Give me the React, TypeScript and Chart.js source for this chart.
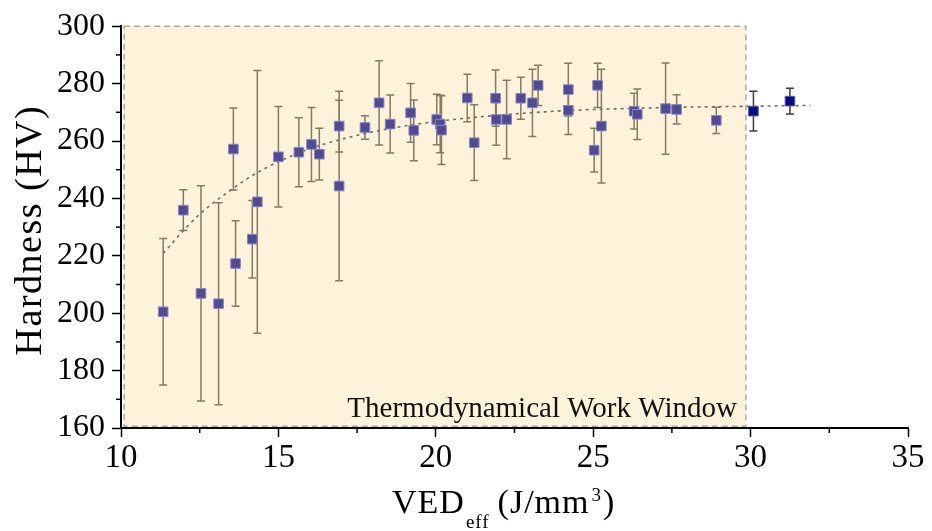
import React, { useEffect, useRef } from "react";
import { Chart, registerables } from "chart.js";

Chart.register(...registerables);

// Measured points inside the work window (x = VED_eff, y = hardness, err = ± bar)
const VED_IN = [11.34, 11.98, 12.54, 13.1, 13.57, 13.64, 14.17, 14.33, 15.0, 15.65, 16.05, 16.3, 16.93, 16.93, 17.75, 18.2, 18.55, 19.2, 19.3, 20.03, 20.14, 20.18, 21.0, 21.22, 21.9, 21.92, 22.25, 22.7, 23.07, 23.25, 24.21, 24.21, 25.03, 25.14, 25.26, 26.3, 26.4, 27.3, 27.65, 28.91];
const HV_IN = [200.5, 235.9, 206.9, 203.3, 257.2, 217.3, 225.8, 238.8, 254.5, 256.1, 258.8, 255.4, 265.2, 244.3, 264.7, 273.3, 265.9, 269.8, 263.7, 267.5, 265.9, 263.8, 275.0, 259.4, 274.9, 267.5, 267.5, 274.9, 273.3, 279.4, 277.9, 270.7, 256.8, 279.4, 265.2, 270.4, 269.3, 271.3, 271.0, 267.2];
const ERR_IN = [25.5, 7.1, 37.5, 35.2, 14.3, 14.9, 13.5, 45.8, 17.5, 12.0, 12.9, 9.0, 9.0, 33.0, 4.1, 14.7, 10.1, 10.2, 10.6, 8.8, 10.0, 12.0, 8.3, 13.2, 9.8, 9.0, 13.7, 7.3, 11.7, 7.0, 9.2, 8.4, 7.6, 7.7, 19.8, 6.2, 8.8, 15.9, 5.1, 4.6];

// Points outside the window
const VED_OUT = [30.09, 31.25];
const HV_OUT = [270.4, 273.9];
const ERR_OUT = [6.9, 4.5];

// Dotted trend curve
const FIT_X = [11.34, 12, 12.5, 13, 13.5, 14, 14.5, 15, 16, 17, 18, 19, 20, 22, 24, 26, 28, 30, 31.9];
const FIT_Y = [220.8, 229, 234.5, 239, 243, 246.8, 250, 252.8, 257.3, 260.6, 263.2, 265.2, 266.8, 269, 270.5, 271.3, 271.8, 272.1, 272.4];

// Axes
const X_MIN = 10, X_MAX = 35, X_STEP = 5, X_MINOR = 2.5;
const Y_MIN = 160, Y_MAX = 300, Y_STEP = 20, Y_MINOR = 10;

// Work window region (data units)
const WINDOW_X = [10.1, 29.85];
const WINDOW_Y = [160.6, 300];
const WINDOW_LABEL = "Thermodynamical Work Window";

const SERIF = '"Liberation Serif", "Times New Roman", serif';

const windowPlugin = {
  id: "workWindow",
  beforeDraw(chart: any) {
    const { ctx, scales } = chart;
    const x0 = scales.x.getPixelForValue(WINDOW_X[0]);
    const x1 = scales.x.getPixelForValue(WINDOW_X[1]);
    const y0 = scales.y.getPixelForValue(WINDOW_Y[1]);
    const y1 = scales.y.getPixelForValue(WINDOW_Y[0]);
    ctx.save();
    ctx.fillStyle = "#fdf3da";
    ctx.fillRect(x0, y0, x1 - x0, y1 - y0);
    ctx.strokeStyle = "#a9a9a9";
    ctx.lineWidth = 1.5;
    ctx.setLineDash([6, 4]);
    ctx.strokeRect(x0, y0, x1 - x0, y1 - y0);
    ctx.setLineDash([]);
    ctx.fillStyle = "#111";
    ctx.font = "29px " + SERIF;
    ctx.textAlign = "right";
    ctx.textBaseline = "alphabetic";
    ctx.fillText(WINDOW_LABEL, x1 - 9, y1 - 9);
    ctx.restore();
  },
};

const errorBarPlugin = {
  id: "errorBars",
  beforeDatasetsDraw(chart: any) {
    const { ctx, scales } = chart;
    const groups = [
      { xs: VED_IN, ys: HV_IN, es: ERR_IN, color: "#857a62" },
      { xs: VED_OUT, ys: HV_OUT, es: ERR_OUT, color: "#3c3c3c" },
    ];
    ctx.save();
    ctx.lineWidth = 1.5;
    groups.forEach((g) => {
      ctx.strokeStyle = g.color;
      g.xs.forEach((xv, i) => {
        const px = scales.x.getPixelForValue(xv);
        const top = scales.y.getPixelForValue(g.ys[i] + g.es[i]);
        const bot = scales.y.getPixelForValue(g.ys[i] - g.es[i]);
        ctx.beginPath();
        ctx.moveTo(px, top);
        ctx.lineTo(px, bot);
        ctx.moveTo(px - 4, top);
        ctx.lineTo(px + 4, top);
        ctx.moveTo(px - 4, bot);
        ctx.lineTo(px + 4, bot);
        ctx.stroke();
      });
    });
    ctx.restore();
  },
};

const axisExtrasPlugin = {
  id: "axisExtras",
  afterDraw(chart: any) {
    const { ctx, scales, chartArea } = chart;
    ctx.save();
    ctx.strokeStyle = "#000";
    ctx.lineWidth = 1.5;
    // minor ticks
    for (let v = Y_MIN + Y_MINOR; v < Y_MAX; v += Y_STEP) {
      const py = scales.y.getPixelForValue(v);
      ctx.beginPath();
      ctx.moveTo(chartArea.left - 5, py);
      ctx.lineTo(chartArea.left, py);
      ctx.stroke();
    }
    for (let v = X_MIN + X_MINOR; v < X_MAX; v += X_STEP) {
      const px = scales.x.getPixelForValue(v);
      ctx.beginPath();
      ctx.moveTo(px, chartArea.bottom);
      ctx.lineTo(px, chartArea.bottom + 5);
      ctx.stroke();
    }
    // y title
    ctx.fillStyle = "#000";
    ctx.save();
    ctx.translate(41, (chartArea.top + chartArea.bottom) / 2 + 3);
    ctx.rotate(-Math.PI / 2);
    ctx.textAlign = "center";
    ctx.textBaseline = "alphabetic";
    ctx.font = "38px " + SERIF;
    (ctx as any).letterSpacing = "1.5px";
    ctx.fillText("Hardness (HV)", 0, 0);
    (ctx as any).letterSpacing = "0px";
    ctx.restore();
    // x title with subscript and superscript
    const big = "34px " + SERIF;
    const small = "19px " + SERIF;
    const base = 513;
    ctx.textAlign = "left";
    ctx.textBaseline = "alphabetic";
    let x = 392;
    ctx.font = big;
    (ctx as any).letterSpacing = "1px";
    ctx.fillText("VED", x, base);
    x += ctx.measureText("VED").width + 1;
    ctx.font = small;
    ctx.fillText("eff", x, base + 15);
    x += ctx.measureText("eff").width + 8;
    ctx.font = big;
    ctx.fillText("(J/mm", x, base);
    x += ctx.measureText("(J/mm").width + 2;
    ctx.font = small;
    ctx.fillText("3", x, base - 12);
    x += ctx.measureText("3").width + 1;
    ctx.font = big;
    ctx.fillText(")", x, base);
    (ctx as any).letterSpacing = "0px";
    ctx.restore();
  },
};

export default function App() {
  const ref = useRef<HTMLCanvasElement | null>(null);

  useEffect(() => {
    if (!ref.current) return;
    const chart = new Chart(ref.current, {
      type: "scatter",
      data: {
        datasets: [
          {
            label: "fit",
            data: FIT_X.map((x, i) => ({ x, y: FIT_Y[i] })),
            showLine: true,
            pointRadius: 0,
            borderColor: "#6e6e6e",
            borderWidth: 1.6,
            borderDash: [3, 4],
            cubicInterpolationMode: "monotone",
            order: 3,
            clip: false,
          } as any,
          {
            label: "in",
            data: VED_IN.map((x, i) => ({ x, y: HV_IN[i] })),
            pointStyle: "rect",
            pointRadius: 6.8,
            backgroundColor: "#4f4a93",
            borderColor: "#8a86bd",
            borderWidth: 1,
            order: 1,
          },
          {
            label: "out",
            data: VED_OUT.map((x, i) => ({ x, y: HV_OUT[i] })),
            pointStyle: "rect",
            pointRadius: 6.8,
            backgroundColor: "#0a0a80",
            borderColor: "#5a5aa8",
            borderWidth: 1,
            order: 1,
          },
        ],
      },
      options: {
        animation: false,
        responsive: false,
        layout: { padding: { top: 26, right: 24, left: 0, bottom: 0 } },
        plugins: { legend: { display: false }, tooltip: { enabled: false } },
        scales: {
          x: {
            type: "linear",
            min: X_MIN,
            max: X_MAX,
            ticks: { stepSize: X_STEP, color: "#000", font: { family: SERIF, size: 33 }, padding: 2, maxRotation: 0 },
            grid: { drawOnChartArea: false, tickLength: 9, tickColor: "#000", tickWidth: 1.5 },
            border: { color: "#000", width: 2 },
            afterFit: (s: any) => { s.height = 103; },
          },
          y: {
            type: "linear",
            min: Y_MIN,
            max: Y_MAX,
            ticks: { stepSize: Y_STEP, color: "#000", font: { family: SERIF, size: 32 }, padding: 7 },
            grid: { drawOnChartArea: false, tickLength: 9, tickColor: "#000", tickWidth: 1.5 },
            border: { color: "#000", width: 2 },
            afterFit: (s: any) => { s.width = 121; },
          },
        },
      },
      plugins: [windowPlugin, errorBarPlugin, axisExtrasPlugin],
    });
    return () => chart.destroy();
  }, []);

  return (
    <div style={{ position: "fixed", left: 0, top: 0, width: 932, height: 531, background: "#fff" }}>
      <canvas ref={ref} width={932} height={531} style={{ display: "block" }} />
    </div>
  );
}
